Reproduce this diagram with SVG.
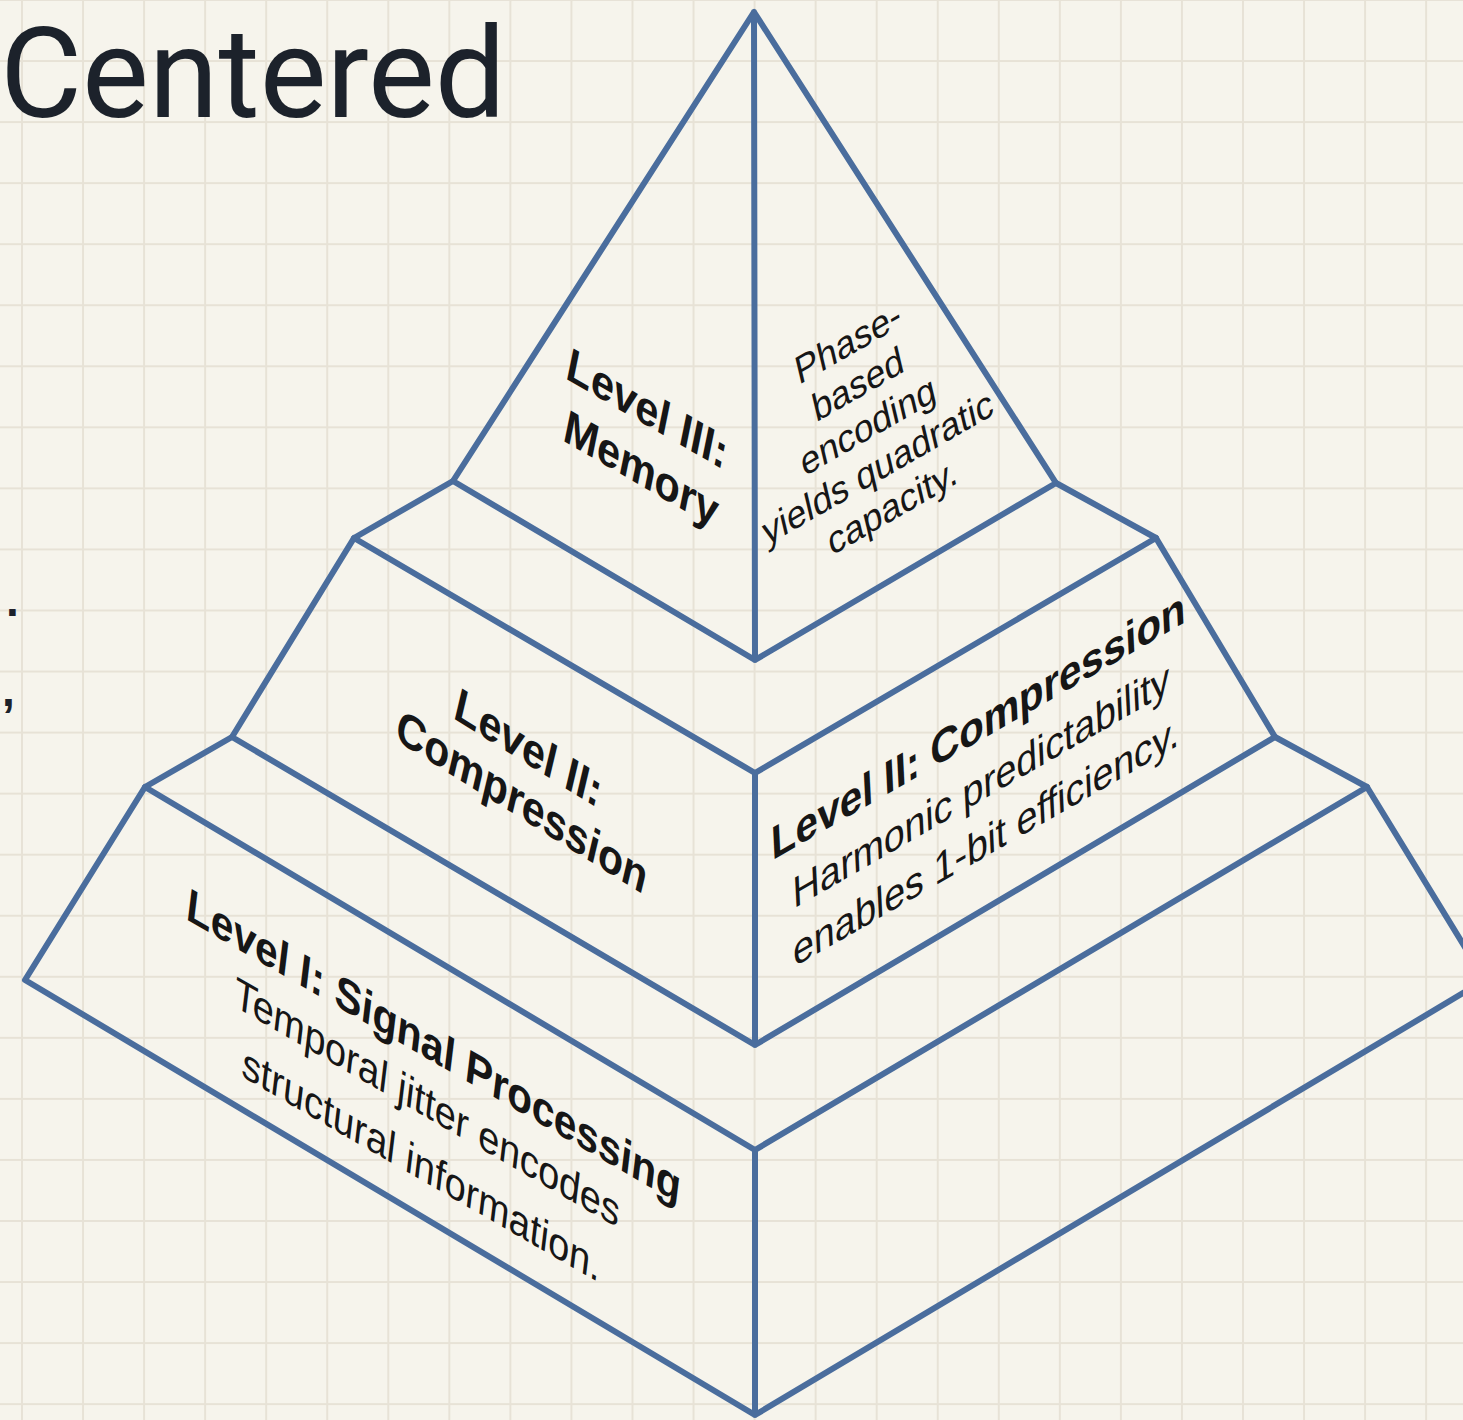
<svg xmlns="http://www.w3.org/2000/svg" width="1463" height="1420" viewBox="0 0 1463 1420">
  <defs>
    <pattern id="grid" x="21" y="-1" width="61.05" height="61.05" patternUnits="userSpaceOnUse">
      <rect x="0" y="0" width="2" height="61.05" fill="#e7e2d6"/>
      <rect x="0" y="0" width="61.05" height="2" fill="#e7e2d6"/>
    </pattern>
    <style>
      .edge { fill: none; stroke: #4a6d9d; stroke-width: 6; stroke-linejoin: round; stroke-linecap: round; }
      .t { font-family: "Liberation Sans", Arial, sans-serif; fill: #161616; text-anchor: middle; }
      .b { font-weight: bold; font-size: 46px; }
      .r { font-weight: normal; font-size: 43px; }
      .s { font-weight: normal; font-size: 38px; }
      .title { font-family: Roboto, "Liberation Sans", sans-serif; font-size: 126px; font-weight: 400; fill: #1c222b; }
      .frag { font-family: "Liberation Sans", Arial, sans-serif; font-size: 46px; font-weight: bold; fill: #1c222b; }
    </style>
  </defs>

  <rect x="0" y="0" width="1463" height="1420" fill="#f6f4ec"/>
  <rect x="0" y="0" width="1463" height="1420" fill="url(#grid)"/>

  <text class="title" x="0" y="117">Centered</text>
  <text class="frag" x="6" y="616">.</text>
  <text class="frag" x="2" y="706">,</text>

  <g id="connectors">
    <path class="edge" d="M453,481 L354,538 M1056,483 L1156,538"/>
    <path class="edge" d="M232,737 L145,787 M1275,737 L1367,787"/>
  </g>

  <g id="level-3">
    <path class="edge" d="M754,12 L453,481 L755,660 L1056,483 Z M754,12 L755,660"/>
    <text class="t b" transform="matrix(0.866,0.5,-0.2,0.98,647,441)">
      <tspan x="0" y="-14">Level III:</tspan>
      <tspan x="0" y="44">Memory</tspan>
    </text>
    <text class="t s" transform="matrix(0.866,-0.5,0.23,0.97,873,426)">
      <tspan x="0" y="-76">Phase-</tspan>
      <tspan x="0" y="-33">based</tspan>
      <tspan x="0" y="10">encoding</tspan>
      <tspan x="0" y="53">yields quadratic</tspan>
      <tspan x="0" y="96">capacity.</tspan>
    </text>
  </g>

  <g id="level-2">
    <path class="edge" d="M354,538 L755,773 L1156,538 L1275,737 L755,1045 L232,737 Z M755,773 L755,1045"/>
    <text class="t b" transform="matrix(0.85,0.53,-0.23,0.97,528,777)">
      <tspan x="0" y="-11">Level II:</tspan>
      <tspan x="0" y="41">Compression</tspan>
    </text>
    <text class="t" transform="matrix(0.866,-0.5,0.05,1,983,784)">
      <tspan class="b" x="0" y="-44">Level II: Compression</tspan>
      <tspan class="r" x="0" y="15">Harmonic predictability</tspan>
      <tspan class="r" x="0" y="72">enables 1-bit efficiency.</tspan>
    </text>
  </g>

  <g id="level-1">
    <path class="edge" d="M145,787 L755,1150 L1367,787 L1485,980 L755,1415 L25,980 Z M755,1150 L755,1415"/>
    <text class="t" transform="matrix(0.866,0.5,-0.12,0.99,429,1103)">
      <tspan class="b" x="0" y="-41">Level I: Signal Processing</tspan>
      <tspan class="r" x="0" y="15">Temporal jitter encodes</tspan>
      <tspan class="r" x="0" y="77">structural information.</tspan>
    </text>
  </g>
</svg>
